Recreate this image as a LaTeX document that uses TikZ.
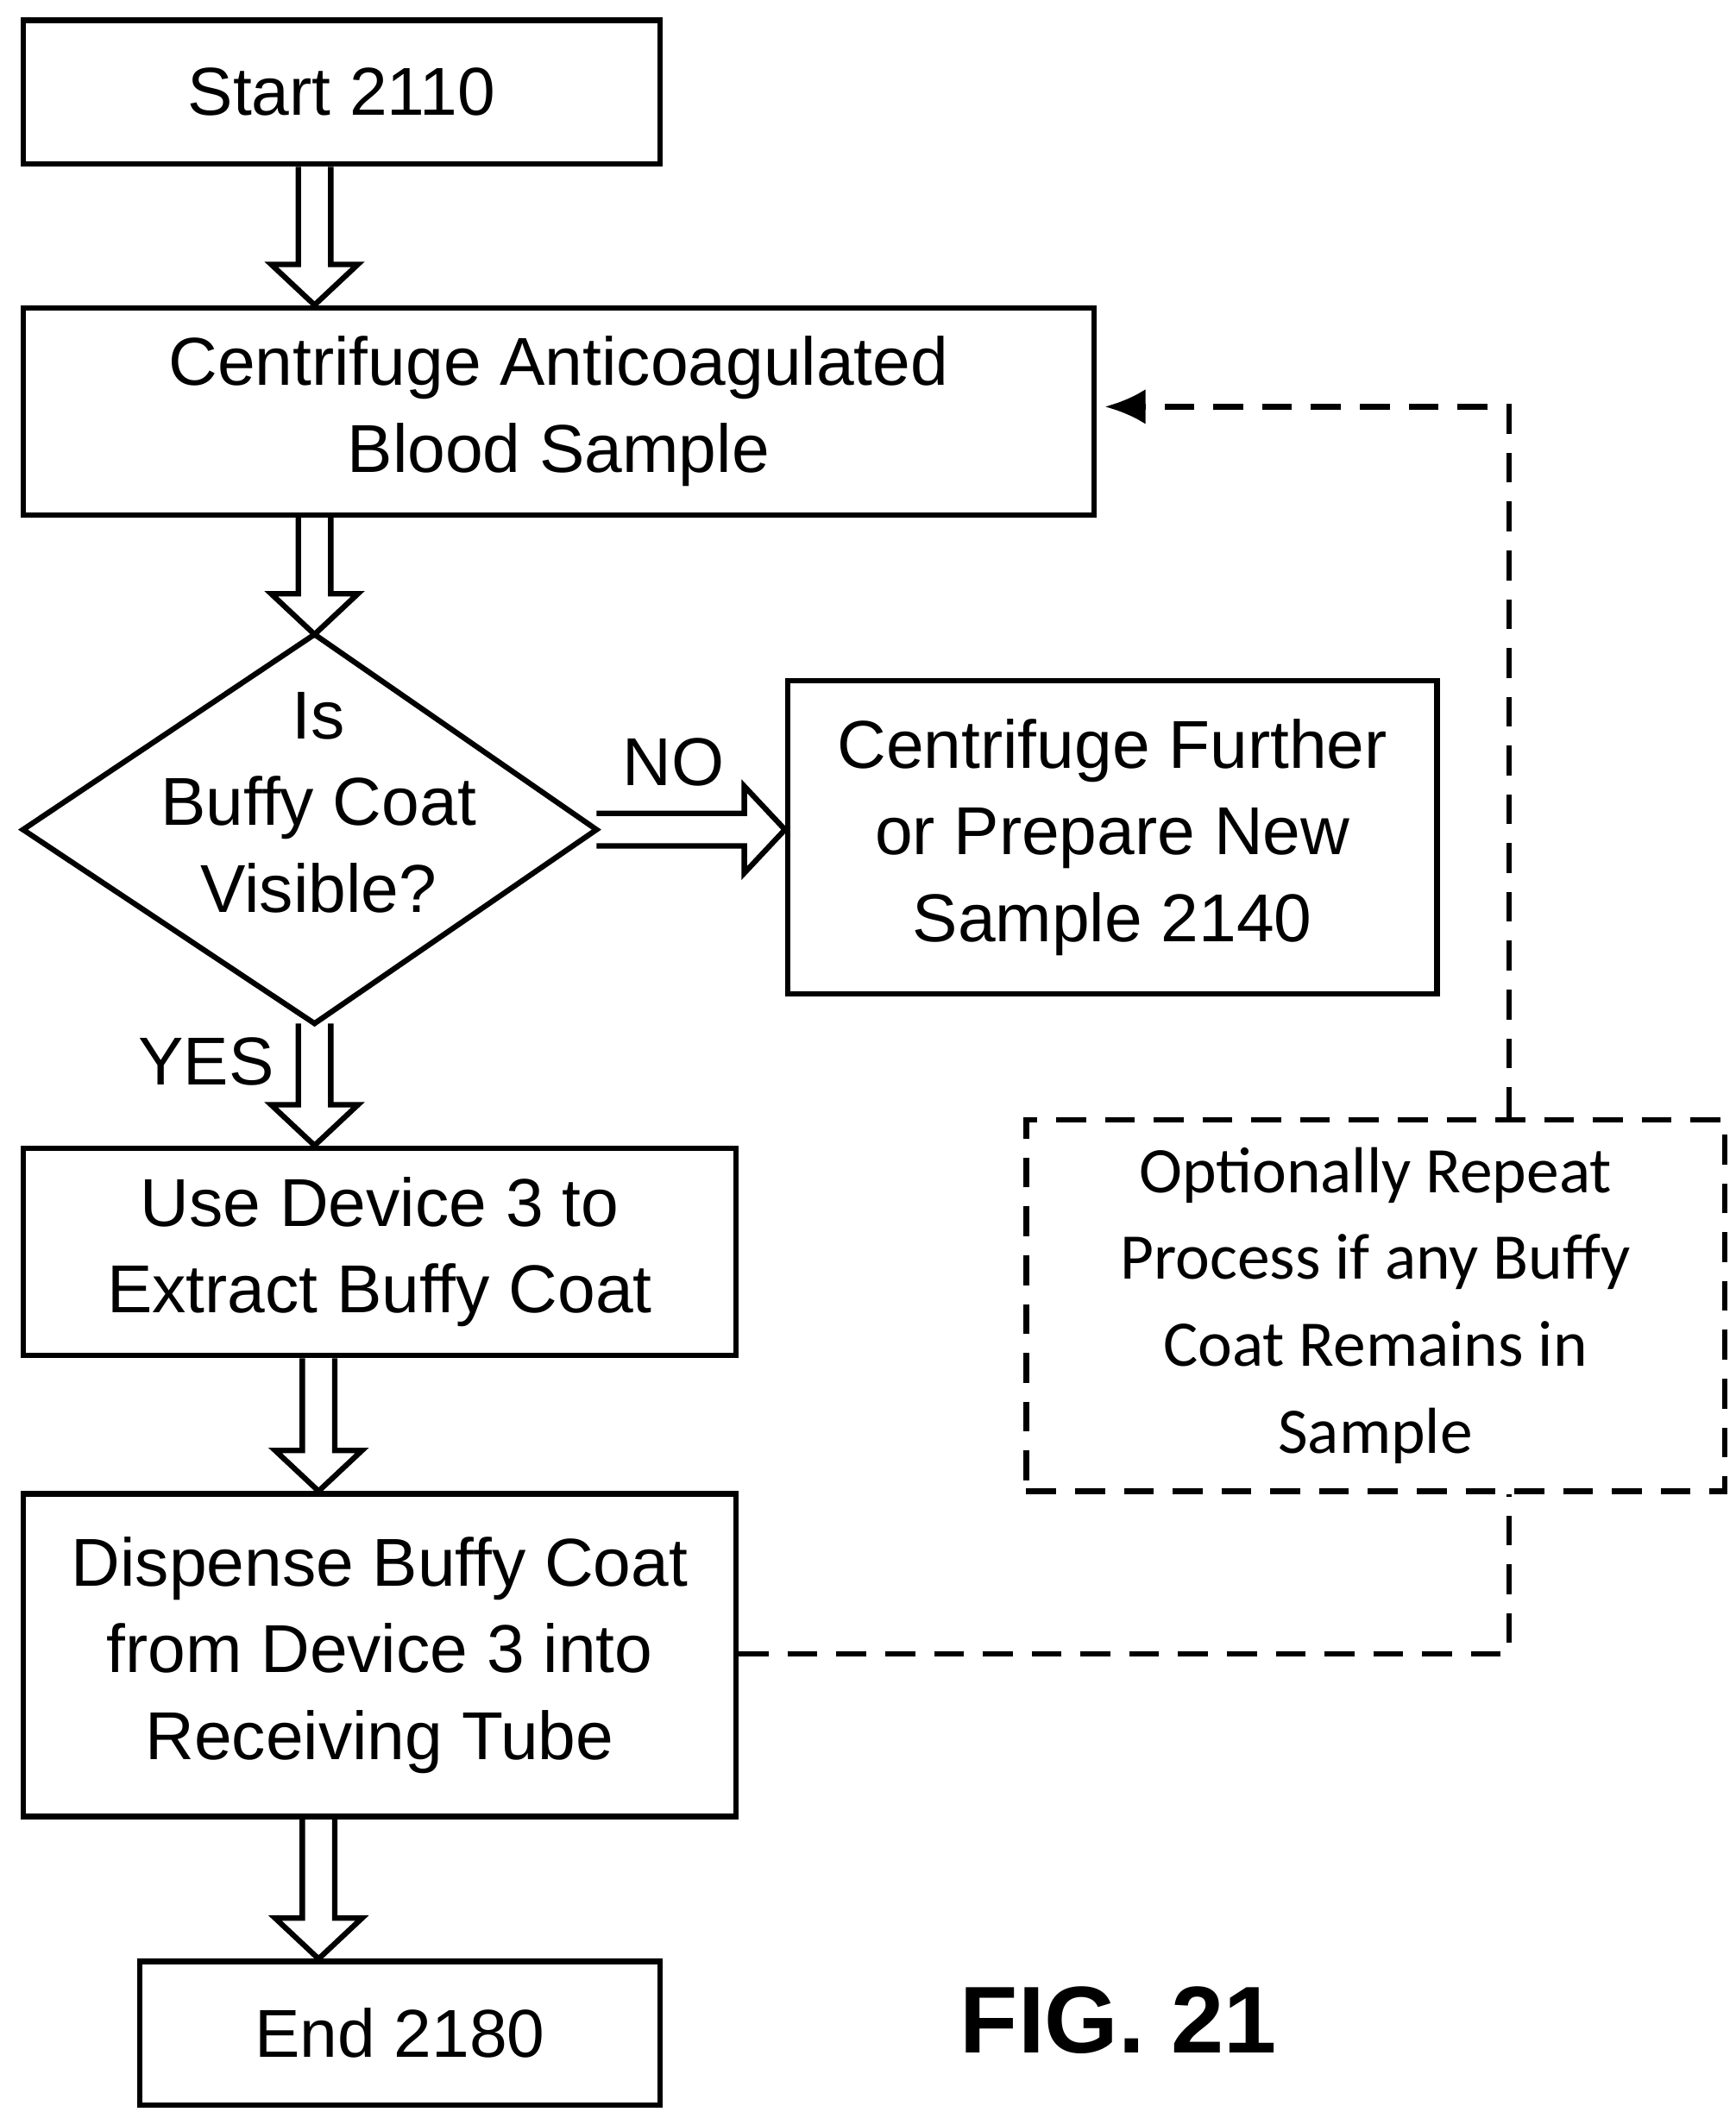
\documentclass[tikz,border=0pt]{standalone}
\usepackage{fontspec}
\setmainfont{Liberation Sans}
\newfontfamily\calfont{Carlito}
\usetikzlibrary{calc,shapes.geometric,arrows.meta}
\begin{document}
\begin{tikzpicture}[x=1pt,y=-1pt,
  box/.style={draw,line width=4pt,inner sep=0pt,align=center,font=\fontsize{50}{64}\selectfont},
  lbl/.style={inner sep=0pt,align=center,font=\fontsize{50}{64}\selectfont},
  dsh/.style={line width=4pt,dash pattern=on 22pt off 14pt}]
\useasboundingbox (0,0) rectangle (1280,1558);
\newcommand\harrow[3]{\draw[line width=4pt] let \p0=(#1),\p1=(#2),\p2=(#3) in
 (\x0-12pt,\y1) -- (\x0-12pt,\y2+30pt) -- (\x0-32pt,\y2+30pt) -- (\x0,\y2) -- (\x0+32pt,\y2+30pt) -- (\x0+12pt,\y2+30pt) -- (\x0+12pt,\y1);}
\node[box,minimum width=470,minimum height=106] (start) at (252,68) {Start 2110};
\node[box,minimum width=790,minimum height=153] (cent) at (412,303.5) {Centrifuge Anticoagulated\\Blood Sample};
\coordinate (dl) at (17,612); \coordinate (dt) at (232,468); \coordinate (dr) at (440,612); \coordinate (db) at (232,755);
\draw[line width=4pt,line join=miter] (dl) -- (dt) -- (dr) -- (db) -- cycle;
\node[lbl] (dtext) at (235,592) {Is\\Buffy Coat\\Visible?};
\node[box,minimum width=479,minimum height=231] (further) at (820.5,617.5) {Centrifuge Further\\or Prepare New\\Sample 2140};
\node[box,minimum width=526,minimum height=153] (dev) at (280,923.5) {Use Device 3 to\\Extract Buffy Coat};
\node[box,minimum width=526,minimum height=238] (disp) at (280,1221) {Dispense Buffy Coat\\from Device 3 into\\Receiving Tube};
\node[box,minimum width=384,minimum height=106] (end) at (295,1500) {End 2180};
\node[draw,dsh,inner sep=0pt,minimum width=515,minimum height=274,align=center,font=\calfont\fontsize{48}{64}\selectfont] (opt) at (1014.5,963) {Optionally Repeat\\Process if any Buffy\\Coat Remains in\\Sample};
\node[lbl] (no) at (497,562) {NO};
\node[lbl] (yes) at (152,783) {YES};
\node[inner sep=0pt,font=\bfseries\fontsize{70}{80}\selectfont] (fig) at (825,1490) {FIG. 21};
\coordinate (a1) at (232,0); \coordinate (a2) at (235,0);
\harrow{a1}{start.south}{cent.north}
\harrow{a1}{cent.south}{dt}
\harrow{a1}{db}{dev.north}
\harrow{a2}{dev.south}{disp.north}
\harrow{a2}{disp.south}{end.north}
\draw[line width=4pt] let \p1=(dr),\p2=(further.west) in
 (\x1,\y1+12pt) -- (\x2-30pt,\y1+12pt) -- (\x2-30pt,\y1+32pt) -- (\x2,\y1) -- (\x2-30pt,\y1-32pt) -- (\x2-30pt,\y1-12pt) -- (\x1,\y1-12pt);
\coordinate (c1) at (1113,1220); \coordinate (c2) at (1113,300); \coordinate (c3) at (815,300);
\draw[dsh] (disp.east |- c1) -- (c1) -- (opt.south -| c1);
\draw[dsh,-{Latex[length=30pt,width=26pt]}] (opt.north -| c2) -- (c2) -- (c3);
\end{tikzpicture}
\end{document}
